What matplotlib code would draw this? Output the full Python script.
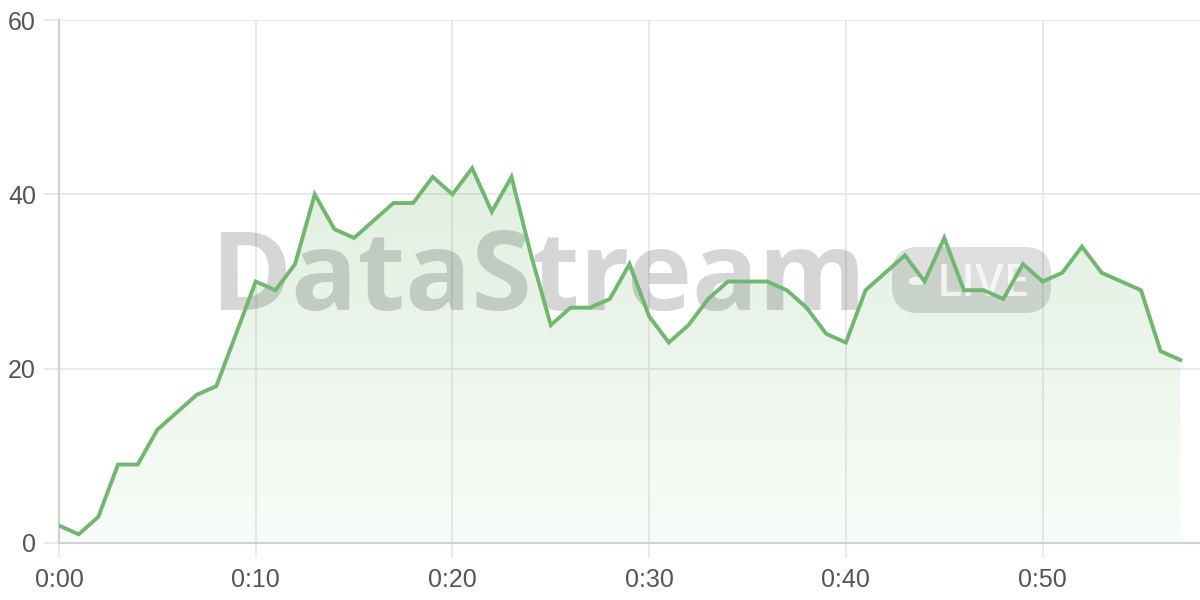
import matplotlib.pyplot as plt
import numpy as np
from matplotlib.patches import FancyBboxPatch, Circle, Polygon

plt.rcParams["font.family"] = ["Liberation Sans", "DejaVu Sans"]

# one value per minute, 0:00 .. 0:57
minutes = list(range(58))
values = [2, 1, 3, 9, 9, 13, 15, 17, 18, 24,
          30, 29, 32, 40, 36, 35, 37, 39, 39, 42,
          40, 43, 38, 42, 33, 25, 27, 27, 28, 32,
          26, 23, 25, 28, 30, 30, 30, 29, 27, 24,
          23, 29, 31, 33, 30, 35, 29, 29, 28, 32,
          30, 31, 34, 31, 30, 29, 22, 21]
x_ticks = [0, 10, 20, 30, 40, 50]
x_labels = ["0:00", "0:10", "0:20", "0:30", "0:40", "0:50"]
y_ticks = [0, 20, 40, 60]

line_color = "#71b771"
grid_color = "#e6e6e6"
text_color = "#555555"

fig = plt.figure(figsize=(12, 6), dpi=100)
ax = fig.add_axes([59 / 1200, 1 - 543 / 600, 1 - 59 / 1200, (543 - 20) / 600])

x = np.array(minutes)
y = np.array(values)

# gradient fill under the line
ymax = 60
grad = np.linspace(0.05, 0.22, 256).reshape(-1, 1)
rgba = np.zeros((256, 1, 4))
rgba[..., 0] = 0x71 / 255
rgba[..., 1] = 0xb7 / 255
rgba[..., 2] = 0x71 / 255
rgba[..., 3] = grad
img = ax.imshow(rgba, extent=[x[0], x[-1], 0, max(values)], origin="lower",
                aspect="auto", zorder=1, interpolation="bilinear")
poly = Polygon(np.column_stack([np.r_[x[0], x, x[-1]], np.r_[0, y, 0]]),
               closed=True, facecolor="none", edgecolor="none")
ax.add_patch(poly)
img.set_clip_path(poly)

ax.plot(x, y, color=line_color, linewidth=2.8, zorder=5, solid_joinstyle="miter")

ax.set_xlim(0, 58.0)
ax.set_ylim(0, ymax)
ax.set_xticks(x_ticks)
ax.set_xticklabels(x_labels)
ax.set_yticks(y_ticks)

ax.grid(True, color=grid_color, linewidth=1.2, zorder=0)
ax.set_axisbelow(True)
for s in ["top", "right"]:
    ax.spines[s].set_visible(False)
for s in ["left", "bottom"]:
    ax.spines[s].set_color("#d0d0d0")
    ax.spines[s].set_linewidth(1.5)
ax.tick_params(axis="both", colors=grid_color, labelcolor=text_color, labelsize=18, width=1.2)
ax.tick_params(axis="y", length=11.5, pad=5)
ax.tick_params(axis="x", length=11, pad=7)

# watermark, drawn under the line
ff = fig.transFigure
ax.text(210 / 1200, 1 - 310 / 600, "DataStream", fontsize=79, fontweight="bold",
        color="black", alpha=0.16, ha="left", va="baseline", zorder=3,
        family=["Open Sans", "DejaVu Sans"], transform=ff, clip_on=False)
badge = FancyBboxPatch((892 / 1200, 1 - 313 / 600), 159 / 1200, 66 / 600,
                       boxstyle="round,pad=0,rounding_size=0.022", transform=ff,
                       facecolor="black", edgecolor="none", alpha=0.13, zorder=3,
                       mutation_aspect=2, clip_on=False)
ax.add_patch(badge)
ax.add_patch(Circle((917 / 1200, 1 - 281 / 600), 8.5 / 1200, transform=ff,
                    facecolor="white", edgecolor="none", alpha=0.75, zorder=3, clip_on=False))
ax.text(937 / 1200, 1 - 296 / 600, "LIVE", fontsize=33, fontweight="semibold", color="white",
        alpha=0.75, ha="left", va="baseline", zorder=3,
        family=["Open Sans", "DejaVu Sans"], transform=ff, clip_on=False)

fig.savefig("out.png", dpi=100)
